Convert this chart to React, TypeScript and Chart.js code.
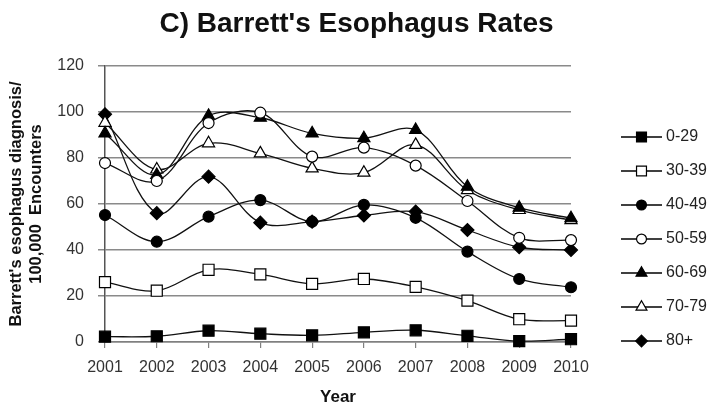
import React, { useEffect, useRef } from 'react';
import { Chart, registerables } from 'chart.js';

Chart.register(...registerables);

const years = ['2001', '2002', '2003', '2004', '2005', '2006', '2007', '2008', '2009', '2010'];
const ageGroups = ['0-29', '30-39', '40-49', '50-59', '60-69', '70-79', '80+'];
const rate0to29 = [2.3, 2.5, 4.9, 3.6, 2.9, 4.2, 5.1, 2.7, 0.4, 1.2];
const rate30to39 = [26, 22.3, 31.4, 29.4, 25.3, 27.4, 24, 18, 9.9, 9.3];
const rate40to49 = [55.2, 43.6, 54.5, 61.7, 52.3, 59.6, 54, 39.3, 27.4, 23.8];
const rate50to59 = [77.8, 70, 95.2, 99.7, 80.6, 84.5, 76.7, 61.3, 45.3, 44.3];
const rate60to69 = [90.7, 72.6, 98.3, 97.5, 90.7, 88.6, 92.2, 67.5, 58.4, 53.8];
const rate70to79 = [95.3, 75, 86.4, 82, 75.5, 73.6, 85.7, 66, 57.4, 53];
const rate80plus = [99, 56, 71.9, 51.9, 52.3, 55, 56.7, 48.7, 41.2, 40];
const yTickValues = [0, 20, 40, 60, 80, 100, 120];

const seriesValues = [rate0to29, rate30to39, rate40to49, rate50to59, rate60to69, rate70to79, rate80plus];
const markerShapes = ['rect', 'rect', 'circle', 'circle', 'triangle', 'triangle', 'rectRot'];
const markerFills = ['#000', '#fff', '#000', '#fff', '#000', '#fff', '#000'];
const markerRadii = [7.8, 7.8, 5.5, 5.5, 7, 7, 6.5];

const FONT = "'Liberation Sans', Arial, sans-serif";

function drawMarker(ctx: CanvasRenderingContext2D, shape: string, x: number, y: number, r: number, fill: string) {
  ctx.save();
  ctx.beginPath();
  if (shape === 'rect') {
    const s = r * Math.SQRT1_2;
    ctx.rect(x - s, y - s, 2 * s, 2 * s);
  } else if (shape === 'circle') {
    ctx.arc(x, y, r, 0, Math.PI * 2);
  } else if (shape === 'triangle') {
    for (let k = 0; k < 3; k++) {
      const a = (k * 2 * Math.PI) / 3;
      const px = x + Math.sin(a) * r;
      const py = y - Math.cos(a) * r;
      if (k === 0) ctx.moveTo(px, py);
      else ctx.lineTo(px, py);
    }
    ctx.closePath();
  } else {
    ctx.moveTo(x, y - r);
    ctx.lineTo(x + r, y);
    ctx.lineTo(x, y + r);
    ctx.lineTo(x - r, y);
    ctx.closePath();
  }
  ctx.fillStyle = fill;
  ctx.fill();
  ctx.lineWidth = 1.2;
  ctx.strokeStyle = '#000';
  ctx.stroke();
  ctx.restore();
}

const sideLegend = {
  id: 'sideLegend',
  afterDraw(chart: any) {
    const ctx: CanvasRenderingContext2D = chart.ctx;
    const area = chart.chartArea;
    const x0 = area.right + 50;
    const x1 = x0 + 41;
    chart.data.datasets.forEach((ds: any, i: number) => {
      const y = 137 + i * 34;
      ctx.save();
      ctx.strokeStyle = '#000';
      ctx.lineWidth = 1.3;
      ctx.beginPath();
      ctx.moveTo(x0, y);
      ctx.lineTo(x1, y);
      ctx.stroke();
      drawMarker(ctx, markerShapes[i], (x0 + x1) / 2, y, markerRadii[i] * 0.9, markerFills[i]);
      ctx.fillStyle = '#222';
      ctx.font = `16px ${FONT}`;
      ctx.textAlign = 'left';
      ctx.textBaseline = 'middle';
      ctx.fillText(ds.label, x1 + 4, y);
      ctx.restore();
    });
  },
};

export default function App() {
  const canvasRef = useRef<HTMLCanvasElement | null>(null);

  useEffect(() => {
    if (!canvasRef.current) return;
    const chart = new Chart(canvasRef.current, {
      type: 'line',
      data: {
        labels: years,
        datasets: ageGroups.map((g, i) => ({
          label: g,
          data: seriesValues[i],
          borderColor: '#111',
          borderWidth: 1.3,
          tension: 0.35,
          pointStyle: markerShapes[i] as any,
          pointRadius: markerRadii[i],
          pointBackgroundColor: markerFills[i],
          pointBorderColor: '#000',
          pointBorderWidth: 1.2,
          clip: false as any,
          fill: false,
          yAxisID: 'y',
        })),
      },
      options: {
        responsive: false,
        animation: false,
        layout: { padding: 0, autoPadding: false },
        plugins: {
          legend: { display: false },
          tooltip: { enabled: false },
          title: {
            display: true,
            text: "C) Barrett's Esophagus Rates",
            color: '#111',
            font: { family: FONT, size: 28, weight: 'bold', lineHeight: 1.2 },
            padding: { top: 7, bottom: 25.4 },
          },
        },
        scales: {
          x: {
            type: 'category',
            offset: false,
            grid: { display: true, drawOnChartArea: false, drawTicks: true, tickLength: 6, color: '#808080', lineWidth: 1.2 },
            border: { display: true, color: '#808080', width: 1.5 },
            ticks: { color: '#333', font: { family: FONT, size: 16 }, padding: 10, maxRotation: 0, autoSkip: false },
            title: {
              display: true,
              text: 'Year',
              color: '#111',
              font: { family: FONT, size: 17, weight: 'bold', lineHeight: 1.2 },
              padding: { top: 0, bottom: 2 },
            },
            afterFit(scale: any) {
              scale.height = 68;
            },
          },
          y: {
            min: 0,
            max: 120,
            afterBuildTicks(scale: any) {
              scale.ticks = yTickValues.map((v) => ({ value: v }));
            },
            grid: { color: '#8a8a8a', lineWidth: 1.5, drawTicks: true, tickLength: 7 },
            border: { display: true, color: '#555', width: 1.5 },
            ticks: { color: '#333', font: { family: FONT, size: 16 }, padding: 14 },
            title: {
              display: true,
              text: ["Barrett's esophagus diagnosis/", '100,000  Encounters'],
              color: '#111',
              font: { family: FONT, size: 16.5, weight: 'bold', lineHeight: 1.18 },
              padding: { top: 6.8, bottom: 0 },
            },
            afterFit(scale: any) {
              scale.width = 105;
            },
          },
          legendSpace: {
            type: 'linear',
            position: 'right',
            display: true,
            grid: { display: false, drawTicks: false },
            border: { display: false },
            ticks: { display: false },
            afterFit(scale: any) {
              scale.width = 142;
            },
          },
        },
      },
      plugins: [sideLegend],
    });
    return () => chart.destroy();
  }, []);

  return (
    <div style={{ position: 'absolute', left: 0, top: 0, width: 713, height: 410, background: '#fff' }}>
      <canvas ref={canvasRef} width={713} height={410} style={{ display: 'block' }} />
    </div>
  );
}
